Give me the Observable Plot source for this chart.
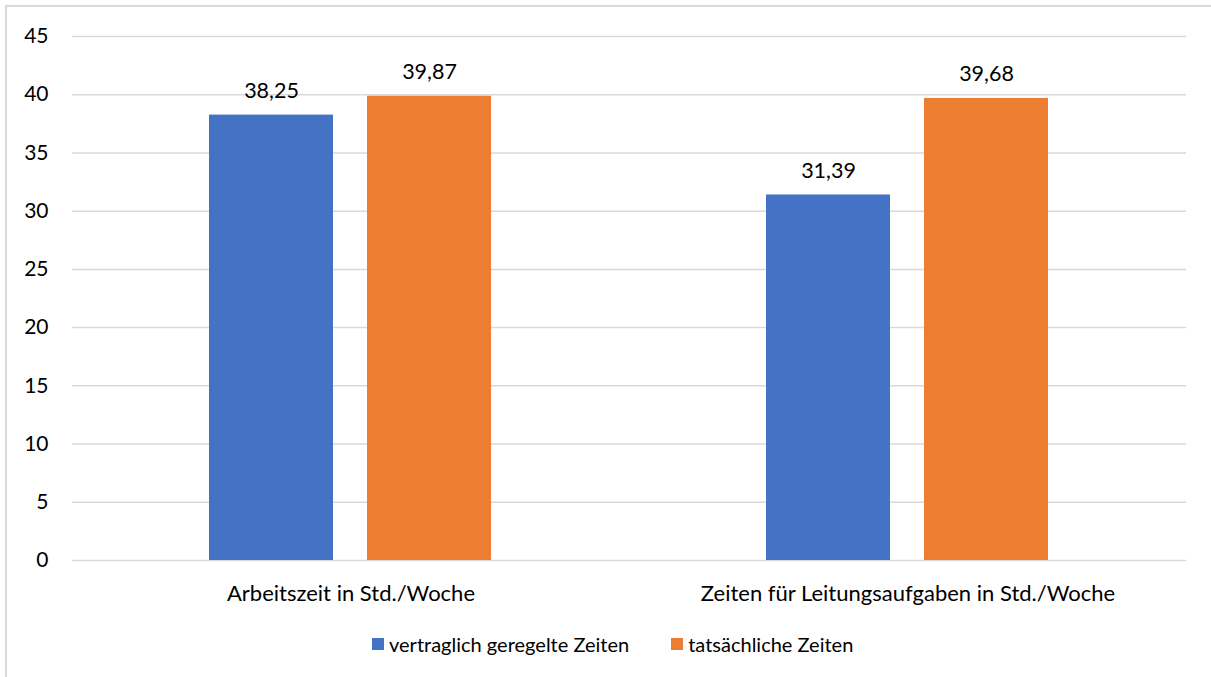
<!DOCTYPE html>
<html><head><meta charset="utf-8">
<script src="https://cdn.jsdelivr.net/npm/d3@7"></script>
<script src="https://cdn.jsdelivr.net/npm/@observablehq/plot@0.6"></script>
<style>
html,body{margin:0;padding:0;background:#fff;width:1211px;height:677px;overflow:hidden;font-family:Lato,sans-serif;}
#frame{position:absolute;left:5px;top:5px;width:1220px;height:690px;border:2px solid #d9d9d9;box-sizing:border-box;}
#chart{position:absolute;left:0;top:0;}
#legend{position:absolute;left:372px;top:633px;height:22px;display:flex;align-items:center;font-size:20px;color:#000;white-space:nowrap;}
#legend .sw{width:12px;height:12px;margin-right:5px;}
#legend .item{display:flex;align-items:center;margin-right:42px;}
</style>
</head><body>
<div id="frame"></div>
<div id="chart"></div>
<div id="legend"></div>
<script>
const categories = ["Arbeitszeit in Std./Woche", "Zeiten für Leitungsaufgaben in Std./Woche"];
const series = ["vertraglich geregelte Zeiten", "tatsächliche Zeiten"];
const vertraglich = [38.25, 31.39];
const tatsaechlich = [39.87, 39.68];
const colors = ["#4472C4", "#ED7D31"];
const yTicks = [0, 5, 10, 15, 20, 25, 30, 35, 40, 45];

const data = categories.flatMap((c, i) => [
  {category: c, series: series[0], value: vertraglich[i]},
  {category: c, series: series[1], value: tatsaechlich[i]}
]);
const fmt = v => v.toFixed(2).replace(".", ",");

const chart = Plot.plot({
  width: 1211, height: 620,
  marginLeft: 71, marginRight: 25, marginTop: 36, marginBottom: 60,
  style: {fontFamily: "Lato, sans-serif", fontSize: "20px", color: "#000", background: "transparent"},
  fx: {domain: categories, padding: 0, axis: null},
  x: {domain: series, paddingInner: 0.214, paddingOuter: 0.86, axis: null},
  y: {domain: [0, 45], axis: null},
  color: {domain: series, range: colors},
  marks: [
    Plot.ruleY(yTicks, {stroke: "#d9d9d9", strokeWidth: 1.5}),
    Plot.axisY(yTicks, {tickSize: 0, tickPadding: 24, label: null, fontSize: 21}),
    Plot.axisFx({anchor: "bottom", tickSize: 0, tickPadding: 25, label: null, fontSize: 22}),
    Plot.barY(data, {fx: "category", x: "series", y: "value", fill: "series"}),
    Plot.text(data, {fx: "category", x: "series", y: "value", text: d => fmt(d.value), lineAnchor: "bottom", dy: -17, fontSize: 21.5, fill: "#000"})
  ]
});
document.getElementById("chart").appendChild(chart);

const legend = document.getElementById("legend");
series.forEach((s, i) => {
  const item = document.createElement("div");
  item.className = "item";
  const sw = document.createElement("div");
  sw.className = "sw";
  sw.style.background = colors[i];
  const t = document.createElement("span");
  t.textContent = s;
  item.appendChild(sw);
  item.appendChild(t);
  legend.appendChild(item);
});
</script>
</body></html>
